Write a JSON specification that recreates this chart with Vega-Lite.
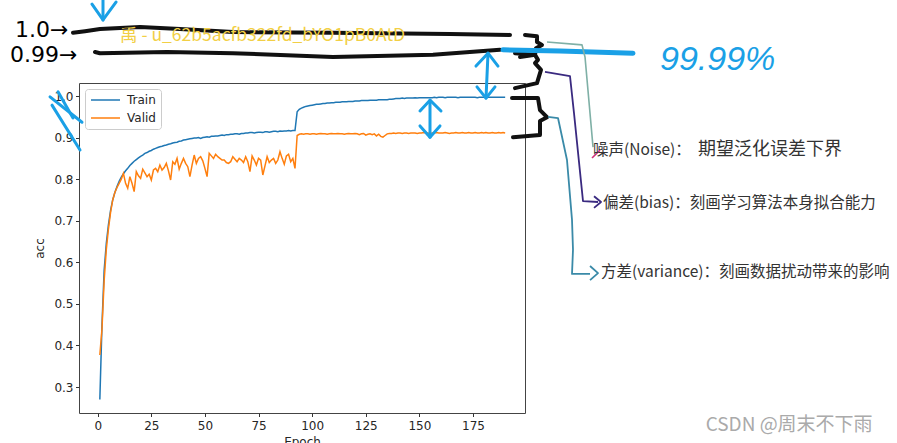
{
"$schema":"https://vega.github.io/schema/vega-lite/v6.json",
"width":446,"height":330,
"autosize":{"type":"none"},
"padding":{"left":79,"top":83,"right":372,"bottom":30},
"background":"white",
"title":{"text":"acc","font":"DejaVu Sans","fontSize":14,"fontWeight":"normal","color":"#222222","offset":6},
"config":{
"view":{"stroke":"#444444","strokeWidth":1},
"axis":{"labelFont":"DejaVu Sans","labelFontSize":12,"labelColor":"#262626","tickColor":"#333333","tickSize":3.5,"domain":false,"grid":false,"titleFont":"DejaVu Sans","titleFontSize":12,"titleFontWeight":"normal","titleColor":"#262626"},
"axisX":{"labelPadding":4,"titlePadding":5},
"axisY":{"labelPadding":2.5,"titlePadding":7}
},
"datasets":{
"acc":[
{"epoch":1,"Train":0.270,"Valid":0.377},{"epoch":2,"Train":0.450,"Valid":0.440},{"epoch":3,"Train":0.580,"Valid":0.555},{"epoch":4,"Train":0.645,"Valid":0.630},{"epoch":5,"Train":0.690,"Valid":0.680},
{"epoch":6,"Train":0.725,"Valid":0.720},{"epoch":7,"Train":0.750,"Valid":0.750},{"epoch":8,"Train":0.768,"Valid":0.768},{"epoch":9,"Train":0.782,"Valid":0.780},{"epoch":10,"Train":0.795,"Valid":0.790},
{"epoch":11,"Train":0.805,"Valid":0.800},{"epoch":12,"Train":0.813,"Valid":0.814},{"epoch":13,"Train":0.820,"Valid":0.790},{"epoch":14,"Train":0.826,"Valid":0.778},{"epoch":15,"Train":0.833,"Valid":0.806},
{"epoch":16,"Train":0.838,"Valid":0.790},{"epoch":17,"Train":0.843,"Valid":0.770},{"epoch":18,"Train":0.847,"Valid":0.818},{"epoch":19,"Train":0.851,"Valid":0.808},{"epoch":20,"Train":0.855,"Valid":0.802},
{"epoch":21,"Train":0.858,"Valid":0.824},{"epoch":22,"Train":0.862,"Valid":0.815},{"epoch":23,"Train":0.864,"Valid":0.806},{"epoch":24,"Train":0.867,"Valid":0.812},{"epoch":25,"Train":0.869,"Valid":0.798},
{"epoch":26,"Train":0.872,"Valid":0.822},{"epoch":27,"Train":0.874,"Valid":0.826},{"epoch":28,"Train":0.876,"Valid":0.818},{"epoch":29,"Train":0.878,"Valid":0.834},{"epoch":30,"Train":0.879,"Valid":0.822},
{"epoch":31,"Train":0.881,"Valid":0.828},{"epoch":32,"Train":0.882,"Valid":0.838},{"epoch":33,"Train":0.884,"Valid":0.820},{"epoch":34,"Train":0.885,"Valid":0.798},{"epoch":35,"Train":0.887,"Valid":0.842},
{"epoch":36,"Train":0.888,"Valid":0.836},{"epoch":37,"Train":0.889,"Valid":0.850},{"epoch":38,"Train":0.891,"Valid":0.824},{"epoch":39,"Train":0.892,"Valid":0.838},{"epoch":40,"Train":0.894,"Valid":0.850},
{"epoch":41,"Train":0.895,"Valid":0.838},{"epoch":42,"Train":0.896,"Valid":0.830},{"epoch":43,"Train":0.897,"Valid":0.806},{"epoch":44,"Train":0.898,"Valid":0.834},{"epoch":45,"Train":0.899,"Valid":0.858},
{"epoch":46,"Train":0.899,"Valid":0.838},{"epoch":47,"Train":0.900,"Valid":0.850},{"epoch":48,"Train":0.898,"Valid":0.854},{"epoch":49,"Train":0.900,"Valid":0.844},{"epoch":50,"Train":0.901,"Valid":0.826},
{"epoch":51,"Train":0.902,"Valid":0.806},{"epoch":52,"Train":0.901,"Valid":0.862},{"epoch":53,"Train":0.903,"Valid":0.856},{"epoch":54,"Train":0.903,"Valid":0.850},{"epoch":55,"Train":0.904,"Valid":0.860},
{"epoch":56,"Train":0.904,"Valid":0.854},{"epoch":57,"Train":0.905,"Valid":0.850},{"epoch":58,"Train":0.906,"Valid":0.846},{"epoch":59,"Train":0.905,"Valid":0.846},{"epoch":60,"Train":0.907,"Valid":0.840},
{"epoch":61,"Train":0.907,"Valid":0.838},{"epoch":62,"Train":0.908,"Valid":0.842},{"epoch":63,"Train":0.908,"Valid":0.854},{"epoch":64,"Train":0.909,"Valid":0.848},{"epoch":65,"Train":0.909,"Valid":0.842},
{"epoch":66,"Train":0.908,"Valid":0.850},{"epoch":67,"Train":0.910,"Valid":0.846},{"epoch":68,"Train":0.910,"Valid":0.840},{"epoch":69,"Train":0.911,"Valid":0.854},{"epoch":70,"Train":0.911,"Valid":0.842},
{"epoch":71,"Train":0.912,"Valid":0.818},{"epoch":72,"Train":0.912,"Valid":0.856},{"epoch":73,"Train":0.911,"Valid":0.846},{"epoch":74,"Train":0.912,"Valid":0.834},{"epoch":75,"Train":0.913,"Valid":0.850},
{"epoch":76,"Train":0.913,"Valid":0.846},{"epoch":77,"Train":0.912,"Valid":0.810},{"epoch":78,"Train":0.914,"Valid":0.832},{"epoch":79,"Train":0.914,"Valid":0.854},{"epoch":80,"Train":0.913,"Valid":0.840},
{"epoch":81,"Train":0.914,"Valid":0.846},{"epoch":82,"Train":0.915,"Valid":0.850},{"epoch":83,"Train":0.915,"Valid":0.838},{"epoch":84,"Train":0.914,"Valid":0.846},{"epoch":85,"Train":0.916,"Valid":0.866},
{"epoch":86,"Train":0.915,"Valid":0.850},{"epoch":87,"Train":0.916,"Valid":0.836},{"epoch":88,"Train":0.916,"Valid":0.856},{"epoch":89,"Train":0.917,"Valid":0.860},{"epoch":90,"Train":0.916,"Valid":0.842},
{"epoch":91,"Train":0.917,"Valid":0.850},{"epoch":92,"Train":0.917,"Valid":0.826},{"epoch":93,"Train":0.962,"Valid":0.905},{"epoch":94,"Train":0.968,"Valid":0.908},{"epoch":95,"Train":0.971,"Valid":0.909},
{"epoch":96,"Train":0.973,"Valid":0.908},{"epoch":97,"Train":0.975,"Valid":0.909},{"epoch":98,"Train":0.976,"Valid":0.909},{"epoch":99,"Train":0.977,"Valid":0.908},{"epoch":100,"Train":0.978,"Valid":0.909},
{"epoch":101,"Train":0.979,"Valid":0.909},{"epoch":102,"Train":0.980,"Valid":0.908},{"epoch":103,"Train":0.980,"Valid":0.909},{"epoch":104,"Train":0.981,"Valid":0.910},{"epoch":105,"Train":0.982,"Valid":0.909},
{"epoch":106,"Train":0.982,"Valid":0.909},{"epoch":107,"Train":0.983,"Valid":0.908},{"epoch":108,"Train":0.983,"Valid":0.909},{"epoch":109,"Train":0.984,"Valid":0.910},{"epoch":110,"Train":0.984,"Valid":0.909},
{"epoch":111,"Train":0.985,"Valid":0.909},{"epoch":112,"Train":0.985,"Valid":0.910},{"epoch":113,"Train":0.985,"Valid":0.909},{"epoch":114,"Train":0.986,"Valid":0.909},{"epoch":115,"Train":0.986,"Valid":0.908},
{"epoch":116,"Train":0.986,"Valid":0.909},{"epoch":117,"Train":0.987,"Valid":0.910},{"epoch":118,"Train":0.987,"Valid":0.909},{"epoch":119,"Train":0.987,"Valid":0.909},{"epoch":120,"Train":0.988,"Valid":0.910},
{"epoch":121,"Train":0.988,"Valid":0.909},{"epoch":122,"Train":0.988,"Valid":0.907},{"epoch":123,"Train":0.989,"Valid":0.909},{"epoch":124,"Train":0.989,"Valid":0.910},{"epoch":125,"Train":0.989,"Valid":0.906},
{"epoch":126,"Train":0.989,"Valid":0.908},{"epoch":127,"Train":0.990,"Valid":0.909},{"epoch":128,"Train":0.990,"Valid":0.907},{"epoch":129,"Train":0.990,"Valid":0.909},{"epoch":130,"Train":0.990,"Valid":0.904},
{"epoch":131,"Train":0.991,"Valid":0.908},{"epoch":132,"Train":0.991,"Valid":0.903},{"epoch":133,"Train":0.991,"Valid":0.901},{"epoch":134,"Train":0.991,"Valid":0.905},{"epoch":135,"Train":0.991,"Valid":0.909},
{"epoch":136,"Train":0.992,"Valid":0.910},{"epoch":137,"Train":0.992,"Valid":0.910},{"epoch":138,"Train":0.993,"Valid":0.911},{"epoch":139,"Train":0.994,"Valid":0.910},{"epoch":140,"Train":0.994,"Valid":0.911},
{"epoch":141,"Train":0.994,"Valid":0.911},{"epoch":142,"Train":0.995,"Valid":0.910},{"epoch":143,"Train":0.994,"Valid":0.911},{"epoch":144,"Train":0.995,"Valid":0.911},{"epoch":145,"Train":0.995,"Valid":0.910},
{"epoch":146,"Train":0.995,"Valid":0.911},{"epoch":147,"Train":0.995,"Valid":0.911},{"epoch":148,"Train":0.996,"Valid":0.911},{"epoch":149,"Train":0.995,"Valid":0.910},{"epoch":150,"Train":0.996,"Valid":0.911},
{"epoch":151,"Train":0.996,"Valid":0.911},{"epoch":152,"Train":0.996,"Valid":0.912},{"epoch":153,"Train":0.996,"Valid":0.911},{"epoch":154,"Train":0.996,"Valid":0.911},{"epoch":155,"Train":0.996,"Valid":0.910},
{"epoch":156,"Train":0.996,"Valid":0.911},{"epoch":157,"Train":0.997,"Valid":0.911},{"epoch":158,"Train":0.996,"Valid":0.912},{"epoch":159,"Train":0.997,"Valid":0.911},{"epoch":160,"Train":0.997,"Valid":0.911},
{"epoch":161,"Train":0.997,"Valid":0.911},{"epoch":162,"Train":0.996,"Valid":0.912},{"epoch":163,"Train":0.997,"Valid":0.911},{"epoch":164,"Train":0.997,"Valid":0.910},{"epoch":165,"Train":0.997,"Valid":0.911},
{"epoch":166,"Train":0.997,"Valid":0.911},{"epoch":167,"Train":0.997,"Valid":0.912},{"epoch":168,"Train":0.996,"Valid":0.911},{"epoch":169,"Train":0.997,"Valid":0.911},{"epoch":170,"Train":0.997,"Valid":0.912},
{"epoch":171,"Train":0.997,"Valid":0.911},{"epoch":172,"Train":0.997,"Valid":0.911},{"epoch":173,"Train":0.997,"Valid":0.912},{"epoch":174,"Train":0.997,"Valid":0.911},{"epoch":175,"Train":0.997,"Valid":0.911},
{"epoch":176,"Train":0.997,"Valid":0.912},{"epoch":177,"Train":0.996,"Valid":0.911},{"epoch":178,"Train":0.997,"Valid":0.911},{"epoch":179,"Train":0.997,"Valid":0.912},{"epoch":180,"Train":0.997,"Valid":0.911},
{"epoch":181,"Train":0.997,"Valid":0.912},{"epoch":182,"Train":0.997,"Valid":0.911},{"epoch":183,"Train":0.997,"Valid":0.911},{"epoch":184,"Train":0.997,"Valid":0.912},{"epoch":185,"Train":0.997,"Valid":0.911},
{"epoch":186,"Train":0.997,"Valid":0.911},{"epoch":187,"Train":0.997,"Valid":0.912},{"epoch":188,"Train":0.997,"Valid":0.911},{"epoch":189,"Train":0.997,"Valid":0.912},{"epoch":190,"Train":0.997,"Valid":0.911}
],
"paths":[
{"g":"black","id":"b1","o":1,"epoch":-11.52,"acc":1.152},{"g":"black","id":"b1","o":2,"epoch":-5.92,"acc":1.156},{"g":"black","id":"b1","o":3,"epoch":1.07,"acc":1.161},{"g":"black","id":"b1","o":4,"epoch":19.72,"acc":1.166},{"g":"black","id":"b1","o":5,"epoch":38.38,"acc":1.161},{"g":"black","id":"b1","o":6,"epoch":63.09,"acc":1.154},{"g":"black","id":"b1","o":7,"epoch":109.71,"acc":1.152},{"g":"black","id":"b1","o":8,"epoch":164.27,"acc":1.149},{"g":"black","id":"b1","o":9,"epoch":192.25,"acc":1.147},
{"g":"black","id":"b2","o":1,"epoch":-1.26,"acc":1.106},{"g":"black","id":"b2","o":2,"epoch":1.07,"acc":1.103},{"g":"black","id":"b2","o":3,"epoch":32.31,"acc":1.106},{"g":"black","id":"b2","o":4,"epoch":63.09,"acc":1.103},{"g":"black","id":"b2","o":5,"epoch":109.71,"acc":1.094},{"g":"black","id":"b2","o":6,"epoch":156.35,"acc":1.099},{"g":"black","id":"b2","o":7,"epoch":187.59,"acc":1.111},
{"g":"black","id":"b3","o":1,"epoch":199.25,"acc":1.147},{"g":"black","id":"b3","o":2,"epoch":204.84,"acc":1.144},{"g":"black","id":"b3","o":3,"epoch":204.84,"acc":1.130},{"g":"black","id":"b3","o":4,"epoch":207.17,"acc":1.123},{"g":"black","id":"b3","o":5,"epoch":204.38,"acc":1.115},{"g":"black","id":"b3","o":6,"epoch":203.91,"acc":1.099},{"g":"black","id":"b3","o":7,"epoch":196.92,"acc":1.094},
{"g":"black","id":"b4","o":1,"epoch":194.58,"acc":1.103},{"g":"black","id":"b4","o":2,"epoch":203.91,"acc":1.099},{"g":"black","id":"b4","o":3,"epoch":205.31,"acc":1.087},{"g":"black","id":"b4","o":4,"epoch":203.91,"acc":1.079},{"g":"black","id":"b4","o":5,"epoch":206.71,"acc":1.063},{"g":"black","id":"b4","o":6,"epoch":204.84,"acc":1.031},{"g":"black","id":"b4","o":7,"epoch":194.58,"acc":1.019},
{"g":"black","id":"b5","o":1,"epoch":193.19,"acc":0.995},{"g":"black","id":"b5","o":2,"epoch":205.31,"acc":0.995},{"g":"black","id":"b5","o":3,"epoch":206.24,"acc":0.966},{"g":"black","id":"b5","o":4,"epoch":209.51,"acc":0.949},{"g":"black","id":"b5","o":5,"epoch":206.24,"acc":0.940},{"g":"black","id":"b5","o":6,"epoch":206.24,"acc":0.906},{"g":"black","id":"b5","o":7,"epoch":193.65,"acc":0.901},
{"g":"blue","id":"u1","o":1,"epoch":2.47,"acc":1.231},{"g":"blue","id":"u1","o":2,"epoch":2.47,"acc":1.183},
{"g":"blue","id":"u2","o":1,"epoch":-2.66,"acc":1.221},{"g":"blue","id":"u2","o":2,"epoch":2.47,"acc":1.183},{"g":"blue","id":"u2","o":3,"epoch":8.53,"acc":1.226},
{"g":"blue","id":"u3","o":1,"epoch":182.0,"acc":1.103},{"g":"blue","id":"u3","o":2,"epoch":181.07,"acc":0.995},
{"g":"blue","id":"u4","o":1,"epoch":176.39,"acc":1.072},{"g":"blue","id":"u4","o":2,"epoch":182.0,"acc":1.103},{"g":"blue","id":"u4","o":3,"epoch":186.66,"acc":1.072},
{"g":"blue","id":"u5","o":1,"epoch":176.86,"acc":1.022},{"g":"blue","id":"u5","o":2,"epoch":181.07,"acc":0.995},{"g":"blue","id":"u5","o":3,"epoch":185.26,"acc":1.022},
{"g":"blue","id":"u6","o":1,"epoch":154.95,"acc":0.990},{"g":"blue","id":"u6","o":2,"epoch":154.95,"acc":0.901},
{"g":"blue","id":"u7","o":1,"epoch":150.28,"acc":0.964},{"g":"blue","id":"u7","o":2,"epoch":154.95,"acc":0.990},{"g":"blue","id":"u7","o":3,"epoch":160.08,"acc":0.964},
{"g":"blue","id":"u8","o":1,"epoch":150.28,"acc":0.928},{"g":"blue","id":"u8","o":2,"epoch":154.95,"acc":0.901},{"g":"blue","id":"u8","o":3,"epoch":159.61,"acc":0.928},
{"g":"blue","id":"u9","o":1,"epoch":-22.24,"acc":0.998},{"g":"blue","id":"u9","o":2,"epoch":-7.32,"acc":0.937},
{"g":"blue","id":"u10","o":1,"epoch":-18.51,"acc":1.010},{"g":"blue","id":"u10","o":2,"epoch":-11.52,"acc":0.947},
{"g":"blue","id":"u11","o":1,"epoch":-21.31,"acc":0.978},{"g":"blue","id":"u11","o":2,"epoch":-8.25,"acc":0.870},
{"g":"bluethick","id":"t1","o":1,"epoch":188.99,"acc":1.111},{"g":"bluethick","id":"t1","o":2,"epoch":215.57,"acc":1.108},{"g":"bluethick","id":"t1","o":3,"epoch":249.62,"acc":1.103},
{"g":"noise","id":"n1","o":1,"epoch":209.51,"acc":1.130},{"g":"noise","id":"n1","o":2,"epoch":225.83,"acc":1.123},{"g":"noise","id":"n1","o":3,"epoch":227.23,"acc":1.094},{"g":"noise","id":"n1","o":4,"epoch":230.97,"acc":0.877},
{"g":"pink","id":"p1","o":1,"epoch":230.5,"acc":0.851},{"g":"pink","id":"p1","o":2,"epoch":234.23,"acc":0.870},
{"g":"bias","id":"s1","o":1,"epoch":208.57,"acc":1.058},{"g":"bias","id":"s1","o":2,"epoch":220.23,"acc":1.048},{"g":"bias","id":"s1","o":3,"epoch":222.1,"acc":0.959},{"g":"bias","id":"s1","o":4,"epoch":226.3,"acc":0.747},{"g":"bias","id":"s1","o":5,"epoch":233.3,"acc":0.745},
{"g":"bias","id":"s2","o":1,"epoch":231.43,"acc":0.759},{"g":"bias","id":"s2","o":2,"epoch":234.7,"acc":0.745},{"g":"bias","id":"s2","o":3,"epoch":231.43,"acc":0.731},
{"g":"var","id":"v1","o":1,"epoch":209.97,"acc":0.950},{"g":"var","id":"v1","o":2,"epoch":214.64,"acc":0.947},{"g":"var","id":"v1","o":3,"epoch":218.83,"acc":0.846},{"g":"var","id":"v1","o":4,"epoch":221.17,"acc":0.702},{"g":"var","id":"v1","o":5,"epoch":221.63,"acc":0.630},{"g":"var","id":"v1","o":6,"epoch":221.17,"acc":0.572},{"g":"var","id":"v1","o":7,"epoch":229.57,"acc":0.572},
{"g":"var","id":"v2","o":1,"epoch":229.57,"acc":0.591},{"g":"var","id":"v2","o":2,"epoch":233.3,"acc":0.574},{"g":"var","id":"v2","o":3,"epoch":229.57,"acc":0.557}
],
"notes":[
{"g":"hand","t":"1.0→","epoch":-38.56,"acc":1.159},
{"g":"hand","t":"0.99→","epoch":-40.89,"acc":1.099},
{"g":"wm","t":"禹 - u_62b5acfb322fd_bYO1pB0AtD","epoch":10.4,"acc":1.144},
{"g":"pct","t":"99.99%","epoch":262.2,"acc":1.087},
{"g":"cn","t":"噪声(Noise)：","epoch":230.97,"acc":0.870},
{"g":"cn2","t":"期望泛化误差下界","epoch":279.9,"acc":0.870},
{"g":"cn","t":"偏差(bias)：刻画学习算法本身拟合能力","epoch":235.63,"acc":0.743},
{"g":"cn","t":"方差(variance)：刻画数据扰动带来的影响","epoch":234.7,"acc":0.577},
{"g":"csdn","t":"CSDN @周末不下雨","epoch":283.48,"acc":0.209}
]
},
"encoding":{
"x":{"field":"epoch","type":"quantitative","scale":{"domain":[-8.72,199.25],"nice":false,"zero":false},"axis":{"values":[0,25,50,75,100,125,150,175],"title":"Epoch"}},
"y":{"field":"acc","type":"quantitative","scale":{"domain":[0.2375,1.0313],"nice":false,"zero":false},"axis":{"values":[0.3,0.4,0.5,0.6,0.7,0.8,0.9,1.0],"format":".1f","title":"acc"}}
},
"layer":[
{"data":{"name":"acc"},"transform":[{"fold":["Train","Valid"],"as":["set","acc"]}],
 "mark":{"type":"line","strokeWidth":1.5},
 "encoding":{"color":{"field":"set","type":"nominal","scale":{"domain":["Train","Valid"],"range":["#1f77b4","#ff7f0e"]},
  "legend":{"title":null,"orient":"none","legendX":6,"legendY":6,"fillColor":"white","strokeColor":"#cccccc","cornerRadius":3,"padding":5,"symbolType":"M-1,0H4.8","symbolSize":100,"symbolStrokeWidth":1.5,"labelOffset":25,"rowPadding":6,"labelFont":"DejaVu Sans","labelFontSize":12,"labelColor":"#262626"}}}},
{"data":{"name":"paths"},"transform":[{"filter":"datum.g=='black'"}],"mark":{"type":"line","color":"#111111","strokeWidth":4,"strokeCap":"round","strokeJoin":"round"},"encoding":{"detail":{"field":"id","type":"nominal"},"order":{"field":"o","type":"quantitative"}}},
{"data":{"name":"paths"},"transform":[{"filter":"datum.g=='blue'"}],"mark":{"type":"line","color":"#1aa0e6","strokeWidth":3,"strokeCap":"round","strokeJoin":"round"},"encoding":{"detail":{"field":"id","type":"nominal"},"order":{"field":"o","type":"quantitative"}}},
{"data":{"name":"paths"},"transform":[{"filter":"datum.g=='bluethick'"}],"mark":{"type":"line","color":"#1aa0e6","strokeWidth":5,"strokeCap":"round","strokeJoin":"round"},"encoding":{"detail":{"field":"id","type":"nominal"},"order":{"field":"o","type":"quantitative"}}},
{"data":{"name":"paths"},"transform":[{"filter":"datum.g=='noise'"}],"mark":{"type":"line","color":"#7fb0a6","strokeWidth":1.6,"strokeJoin":"round"},"encoding":{"detail":{"field":"id","type":"nominal"},"order":{"field":"o","type":"quantitative"}}},
{"data":{"name":"paths"},"transform":[{"filter":"datum.g=='pink'"}],"mark":{"type":"line","color":"#d0307a","strokeWidth":1.6},"encoding":{"detail":{"field":"id","type":"nominal"},"order":{"field":"o","type":"quantitative"}}},
{"data":{"name":"paths"},"transform":[{"filter":"datum.g=='bias'"}],"mark":{"type":"line","color":"#3a2a80","strokeWidth":1.8,"strokeJoin":"round"},"encoding":{"detail":{"field":"id","type":"nominal"},"order":{"field":"o","type":"quantitative"}}},
{"data":{"name":"paths"},"transform":[{"filter":"datum.g=='var'"}],"mark":{"type":"line","color":"#3a8aa8","strokeWidth":1.8,"strokeJoin":"round"},"encoding":{"detail":{"field":"id","type":"nominal"},"order":{"field":"o","type":"quantitative"}}},
{"data":{"name":"notes"},"transform":[{"filter":"datum.g=='hand'"}],"mark":{"type":"text","align":"left","baseline":"middle","font":"DejaVu Sans","fontSize":22,"color":"#000000"},"encoding":{"text":{"field":"t"}}},
{"data":{"name":"notes"},"transform":[{"filter":"datum.g=='wm'"}],"mark":{"type":"text","align":"left","baseline":"middle","font":"Noto Sans CJK SC","fontSize":17.5,"color":"#f2cf45"},"encoding":{"text":{"field":"t"}}},
{"data":{"name":"notes"},"transform":[{"filter":"datum.g=='pct'"}],"mark":{"type":"text","align":"left","baseline":"middle","font":"Liberation Sans","fontStyle":"italic","fontSize":34,"color":"#1aa0e6"},"encoding":{"text":{"field":"t"}}},
{"data":{"name":"notes"},"transform":[{"filter":"datum.g=='cn'"}],"mark":{"type":"text","align":"left","baseline":"middle","font":"Noto Sans CJK SC","fontSize":15.5,"color":"#333333"},"encoding":{"text":{"field":"t"}}},
{"data":{"name":"notes"},"transform":[{"filter":"datum.g=='cn2'"}],"mark":{"type":"text","align":"left","baseline":"middle","font":"Noto Sans CJK SC","fontSize":18,"color":"#333333"},"encoding":{"text":{"field":"t"}}},
{"data":{"name":"notes"},"transform":[{"filter":"datum.g=='csdn'"}],"mark":{"type":"text","align":"left","baseline":"middle","font":"Noto Sans CJK SC","fontSize":19,"color":"#aaaaaa"},"encoding":{"text":{"field":"t"}}}
]
}
